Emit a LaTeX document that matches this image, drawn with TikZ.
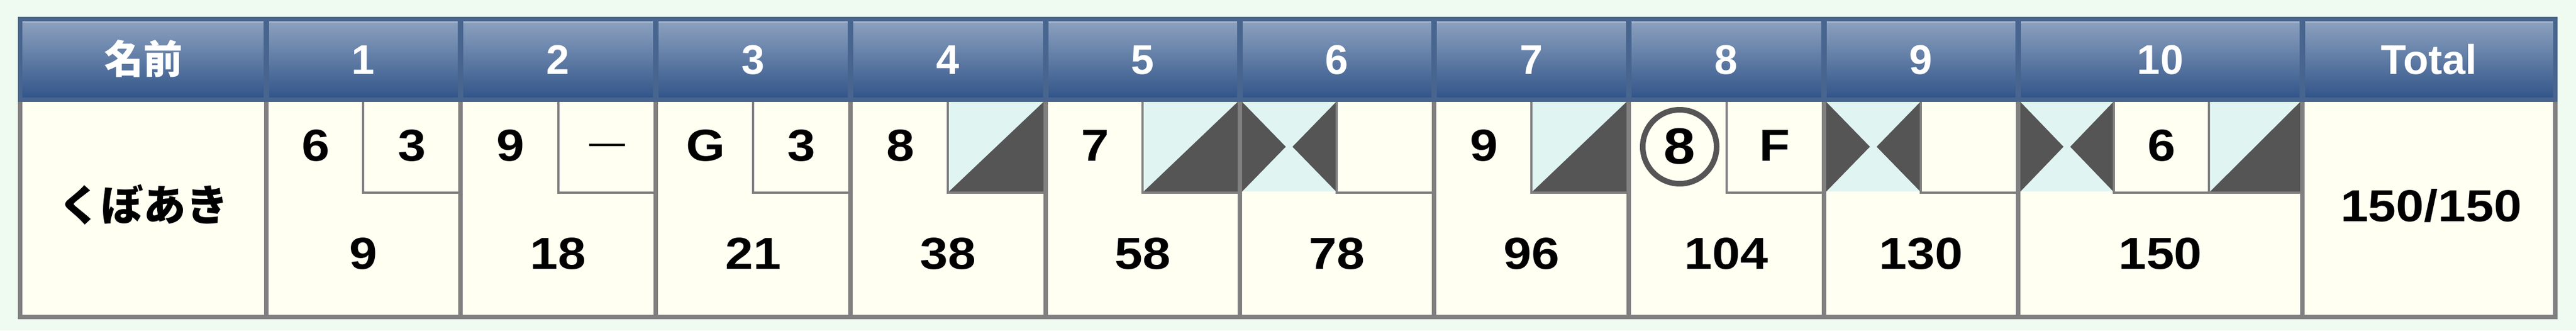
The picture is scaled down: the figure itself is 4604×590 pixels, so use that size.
\documentclass[tikz,border=0pt]{standalone}
\usepackage{fontspec}
\setmainfont{Liberation Sans}
\newfontfamily\bodyfont{Liberation Sans}[FakeStretch=1.12]
\newfontfamily\jpfont{Noto Sans CJK JP}
\definecolor{bgc}{HTML}{EFFBF0}
\definecolor{ivory}{HTML}{FFFFF2}
\definecolor{linegray}{HTML}{808080}
\definecolor{darkf}{HTML}{555555}
\definecolor{cyanf}{HTML}{E0F5F2}
\definecolor{hdrborder}{HTML}{48658F}
\definecolor{hdrtop}{HTML}{8A9FBE}
\definecolor{hdrbot}{HTML}{33568A}
\definecolor{hilite}{HTML}{A2B4CE}
\tikzset{
  frameline/.style={draw=linegray, line width=2pt},
  boxline/.style={draw=linegray, line width=1pt},
  hdrcell/.style={top color=hdrtop, bottom color=hdrbot, draw=none},
  hdrtext/.style={text=white, font=\fontsize{18.5}{22}\selectfont\bfseries, inner sep=0pt, anchor=base},
  bodytext/.style={text=black, font=\bodyfont\fontsize{20}{24}\selectfont\bfseries, inner sep=0pt, anchor=base},
  circmark/.style={draw=darkf, line width=2.5pt},
}
\newcommand{\sparemark}[2]{%
  \fill[cyanf] (#1,182) rectangle (#2,342);
  \fill[darkf] (#2,182) -- (#2,342) -- (#1,342) -- cycle;}
\newcommand{\strikemark}[2]{%
  \fill[cyanf] (#1,182) rectangle (#2,342);
  \fill[darkf] (#1,182) -- (#1,342) -- ({(#1+#2)/2-6},262) -- cycle;
  \fill[darkf] (#2,182) -- (#2,342) -- ({(#1+#2)/2+6},262) -- cycle;}
\begin{document}
\begin{tikzpicture}[x=0.25pt,y=-0.25pt]
\useasboundingbox (0,0) rectangle (4604,590);
\fill[bgc] (0,0) rectangle (4604,590);
% header
\fill[hdrborder] (32,30) rectangle (4571,182);
\foreach \a/\b in {40/471,481/818,828/1167,1177/1515,1525/1864,1874/2211,2221/2558,2568/2906,2916/3255,3265/3602,3612/4110,4120/4563}{
  \shade[hdrcell] (\a,41) rectangle (\b,173);
  \fill[hilite] (\a,38) rectangle (\b,41);
}
% body
\fill[ivory] (36,182) rectangle (4567,566);
% marks
\sparemark{1696}{1865}
\sparemark{2044}{2212}
\strikemark{2220}{2388}
\sparemark{2739}{2907}
\strikemark{3264}{3432}
\strikemark{3611}{3777}
\sparemark{3950}{4111}
% small boxes
\foreach \l/\r in {649/823,998/1172,1346/1520,1694/1869,2042/2216,2389/2563,2737/2911,3086/3260,3433/3607,3778/3948,3948/4115}{
  \draw[boxline] (\l,182) -- (\l,343.5) -- (\r,343.5);
}
% frame lines
\foreach \x in {476,823,1172,1520,1869,2216,2563,2911,3260,3607,4115}{
  \draw[frameline] (\x,182) -- (\x,566);
}
\draw[frameline] (36,182) -- (36,570);
\draw[frameline] (4567,182) -- (4567,570);
\draw[frameline] (32,566) -- (4571,566);
% header texts
\node[text=white, font=\jpfont\fontsize{17.5}{21}\selectfont\bfseries, inner sep=0pt] (hname) at (256,105) {名前};
\foreach \t/\x in {1/649.5,2/997.5,3/1346,4/1694.5,5/2042.5,6/2389.5,7/2737,8/3085.5,9/3433.5,10/3861,Total/4341}{
  \node[hdrtext] (h\t) at (\x,132) {\t};
}
% name and total
\node[text=black, font=\jpfont\fontsize{19}{23}\selectfont\bfseries, inner sep=0pt] (player) at (256,365) {くぼあき};
\node[bodytext] (total) at (4345,395) {150/150};
% first row marks
\node[bodytext] (r1a) at (564,287) {6};
\node[bodytext] (r1b) at (736,287) {3};
\node[bodytext] (r2a) at (912,287) {9};
\node[text=black, font=\fontsize{16}{20}\selectfont, inner sep=0pt, anchor=base] (r2b) at (1085,275) {—};
\node[bodytext] (r3a) at (1261,287) {G};
\node[bodytext] (r3b) at (1432,287) {3};
\node[bodytext] (r4a) at (1609,287) {8};
\node[bodytext] (r5a) at (1957,287) {7};
\node[bodytext] (r7a) at (2652,287) {9};
\draw[circmark] (3002,262) circle[radius=66];
\node[text=black, font=\bodyfont\fontsize{22.7}{26}\selectfont\bfseries, inner sep=0pt, anchor=base] (r8a) at (3002,292) {8};
\node[bodytext] (r8b) at (3172,287) {F};
\node[bodytext] (r10b) at (3863,287) {6};
% scores
\foreach \s/\x in {9/649.5,18/997.5,21/1346,38/1694.5,58/2042.5,78/2389.5,96/2737,104/3085.5,130/3433.5,150/3861}{
  \node[bodytext] (s\s) at (\x,480) {\s};
}
\end{tikzpicture}
\end{document}
